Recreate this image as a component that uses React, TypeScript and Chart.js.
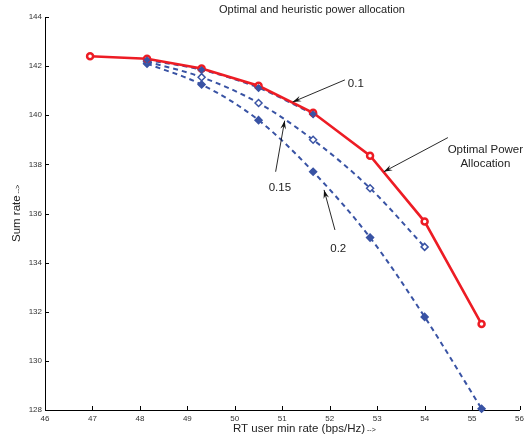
import React, { useEffect, useRef } from 'react';
import { Chart, registerables } from 'chart.js';

Chart.register(...registerables);

// ---- data ----
const optimalX = [46.95, 48.15, 49.3, 50.5, 51.65, 52.85, 54.0, 55.2];
const optimalY = [142.4, 142.3, 141.9, 141.2, 140.1, 138.35, 135.67, 131.5];

const heur01X = [48.15, 49.3, 50.5, 51.65];
const heur01Y = [142.25, 141.85, 141.12, 140.05];

const heur015X = [48.15, 49.3, 50.5, 51.65, 52.85, 54.0];
const heur015Y = [142.18, 141.55, 140.5, 139.0, 137.03, 134.64];

const heur02X = [48.15, 49.3, 50.5, 51.65, 52.85, 54.0, 55.2];
const heur02Y = [142.1, 141.25, 139.8, 137.7, 135.02, 131.79, 128.05];

const xTicks = [46, 47, 48, 49, 50, 51, 52, 53, 54, 55, 56];
const yTicks = [128, 130, 132, 134, 136, 138, 140, 142, 144];

const titleText = 'Optimal and heuristic power allocation';
const xLabel = 'RT user min rate (bps/Hz)';
const yLabel = 'Sum rate';
const arrowSuffix = ' -->';

// annotation labels (text, text anchor in data units, arrow start -> tip in data units)
const annotationTexts = [['0.1'], ['0.15'], ['0.2'], ['Optimal Power', 'Allocation']];
const annotationTextAt = [[52.55, 141.27], [50.95, 137.04], [52.18, 134.58], [55.28, 138.59]];
const annotationFrom = [[52.32, 141.44], [50.86, 137.7], [52.11, 135.33], [54.49, 139.09]];
const annotationTo = [[51.22, 140.54], [51.05, 139.78], [51.88, 136.96], [53.14, 137.7]];

const toPoints = (xs: number[], ys: number[]) => xs.map((x, i) => ({ x, y: ys[i] }));

const FONT = '"Liberation Sans", Arial, Helvetica, sans-serif';
const RED = 'rgb(237,28,36)';
const BLUE = 'rgb(57,83,164)';

const overlayPlugin = {
  id: 'overlay',
  afterDraw(chart: any) {
    const { ctx, chartArea } = chart;
    const xs = chart.scales.x;
    const ys = chart.scales.y;
    ctx.save();
    // inward tick marks
    ctx.strokeStyle = '#000';
    ctx.lineWidth = 1;
    ctx.beginPath();
    xTicks.forEach((v) => {
      const px = Math.round(xs.getPixelForValue(v)) + 0.5;
      ctx.moveTo(px, chartArea.bottom);
      ctx.lineTo(px, chartArea.bottom - 4);
    });
    yTicks.forEach((v) => {
      const py = Math.round(ys.getPixelForValue(v)) + 0.5;
      ctx.moveTo(chartArea.left, py);
      ctx.lineTo(chartArea.left + 4, py);
    });
    ctx.stroke();

    // title
    ctx.fillStyle = '#222';
    ctx.font = `11px ${FONT}`;
    ctx.textAlign = 'center';
    ctx.textBaseline = 'middle';
    ctx.fillText(titleText, 312, 10);

    // x label
    ctx.textAlign = 'left';
    ctx.font = `11.5px ${FONT}`;
    ctx.fillText(xLabel, 233, 429);
    const xw = ctx.measureText(xLabel).width;
    ctx.font = `7px ${FONT}`;
    ctx.fillText(arrowSuffix, 233 + xw, 430);

    // y label
    ctx.save();
    ctx.translate(17, 242);
    ctx.rotate(-Math.PI / 2);
    ctx.font = `11.5px ${FONT}`;
    ctx.fillText(yLabel, 0, 0);
    const yw = ctx.measureText(yLabel).width;
    ctx.font = `7px ${FONT}`;
    ctx.fillText(arrowSuffix, yw, 1);
    ctx.restore();

    // annotations
    ctx.font = `11.5px ${FONT}`;
    ctx.textAlign = 'center';
    annotationTexts.forEach((lines, i) => {
      const tx = xs.getPixelForValue(annotationTextAt[i][0]);
      const ty = ys.getPixelForValue(annotationTextAt[i][1]);
      lines.forEach((ln, j) => ctx.fillText(ln, tx, ty + j * 14));
      const x0 = xs.getPixelForValue(annotationFrom[i][0]);
      const y0 = ys.getPixelForValue(annotationFrom[i][1]);
      const x1 = xs.getPixelForValue(annotationTo[i][0]);
      const y1 = ys.getPixelForValue(annotationTo[i][1]);
      ctx.strokeStyle = '#111';
      ctx.lineWidth = 0.9;
      ctx.beginPath();
      ctx.moveTo(x0, y0);
      ctx.lineTo(x1, y1);
      ctx.stroke();
      const ang = Math.atan2(y1 - y0, x1 - x0);
      const L = 9;
      const W = 0.32;
      ctx.fillStyle = '#111';
      ctx.beginPath();
      ctx.moveTo(x1, y1);
      ctx.lineTo(x1 - L * Math.cos(ang - W), y1 - L * Math.sin(ang - W));
      ctx.lineTo(x1 - L * 0.6 * Math.cos(ang), y1 - L * 0.6 * Math.sin(ang));
      ctx.lineTo(x1 - L * Math.cos(ang + W), y1 - L * Math.sin(ang + W));
      ctx.closePath();
      ctx.fill();
      ctx.fillStyle = '#222';
    });
    ctx.restore();
  },
};

export default function App() {
  const ref = useRef<HTMLCanvasElement | null>(null);

  useEffect(() => {
    if (!ref.current) return;
    const blueLine = (data: any[], fill: string) => ({
      data,
      showLine: true,
      borderColor: BLUE,
      borderWidth: 2,
      borderDash: [5, 4],
      cubicInterpolationMode: 'monotone' as const,
      pointStyle: 'rectRot' as const,
      pointRadius: 3.5,
      pointBorderWidth: 1.5,
      pointBackgroundColor: fill,
      pointBorderColor: BLUE,
      clip: false as const,
    });
    const chart = new Chart(ref.current, {
      type: 'scatter',
      data: {
        datasets: [
          {
            data: toPoints(heur01X, heur01Y),
            showLine: false,
            pointStyle: 'rectRot',
            pointRadius: 3.2,
            pointBackgroundColor: BLUE,
            pointBorderColor: BLUE,
            clip: false,
          } as any,
          {
            data: toPoints(optimalX, optimalY),
            showLine: true,
            borderColor: RED,
            borderWidth: 2.6,
            tension: 0,
            pointStyle: 'circle',
            pointRadius: 3,
            pointBorderWidth: 2.5,
            pointBackgroundColor: '#fff',
            pointBorderColor: RED,
            clip: false,
          } as any,
          blueLine(toPoints(heur01X, heur01Y), BLUE),
          blueLine(toPoints(heur015X, heur015Y), '#ffffff'),
          blueLine(toPoints(heur02X, heur02Y), BLUE),
        ],
      },
      options: {
        responsive: false,
        animation: false,
        events: [],
        layout: { padding: { top: 17, right: 8, left: 0, bottom: 0 } },
        plugins: { legend: { display: false }, tooltip: { enabled: false }, title: { display: false } },
        scales: {
          x: {
            type: 'linear',
            min: 46,
            max: 56,
            afterFit: (s: any) => {
              s.height = 27;
            },
            afterBuildTicks: (s: any) => {
              s.ticks = xTicks.map((v) => ({ value: v }));
            },
            grid: { display: false, drawTicks: false },
            border: { display: true, color: '#000', width: 1 },
            ticks: {
              padding: 4,
              maxRotation: 0,
              color: '#333',
              font: { family: FONT, size: 8 },
            },
          },
          y: {
            type: 'linear',
            min: 128,
            max: 144,
            afterFit: (s: any) => {
              s.width = 45;
            },
            afterBuildTicks: (s: any) => {
              s.ticks = yTicks.map((v) => ({ value: v }));
            },
            grid: { display: false, drawTicks: false },
            border: { display: true, color: '#000', width: 1 },
            ticks: {
              padding: 3,
              color: '#333',
              font: { family: FONT, size: 8 },
            },
          },
        },
      },
      plugins: [overlayPlugin],
    });
    return () => chart.destroy();
  }, []);

  return (
    <div style={{ position: 'fixed', left: 0, top: 0, width: 528, height: 437, background: '#fff' }}>
      <canvas ref={ref} width={528} height={437} style={{ width: 528, height: 437 }} />
    </div>
  );
}
